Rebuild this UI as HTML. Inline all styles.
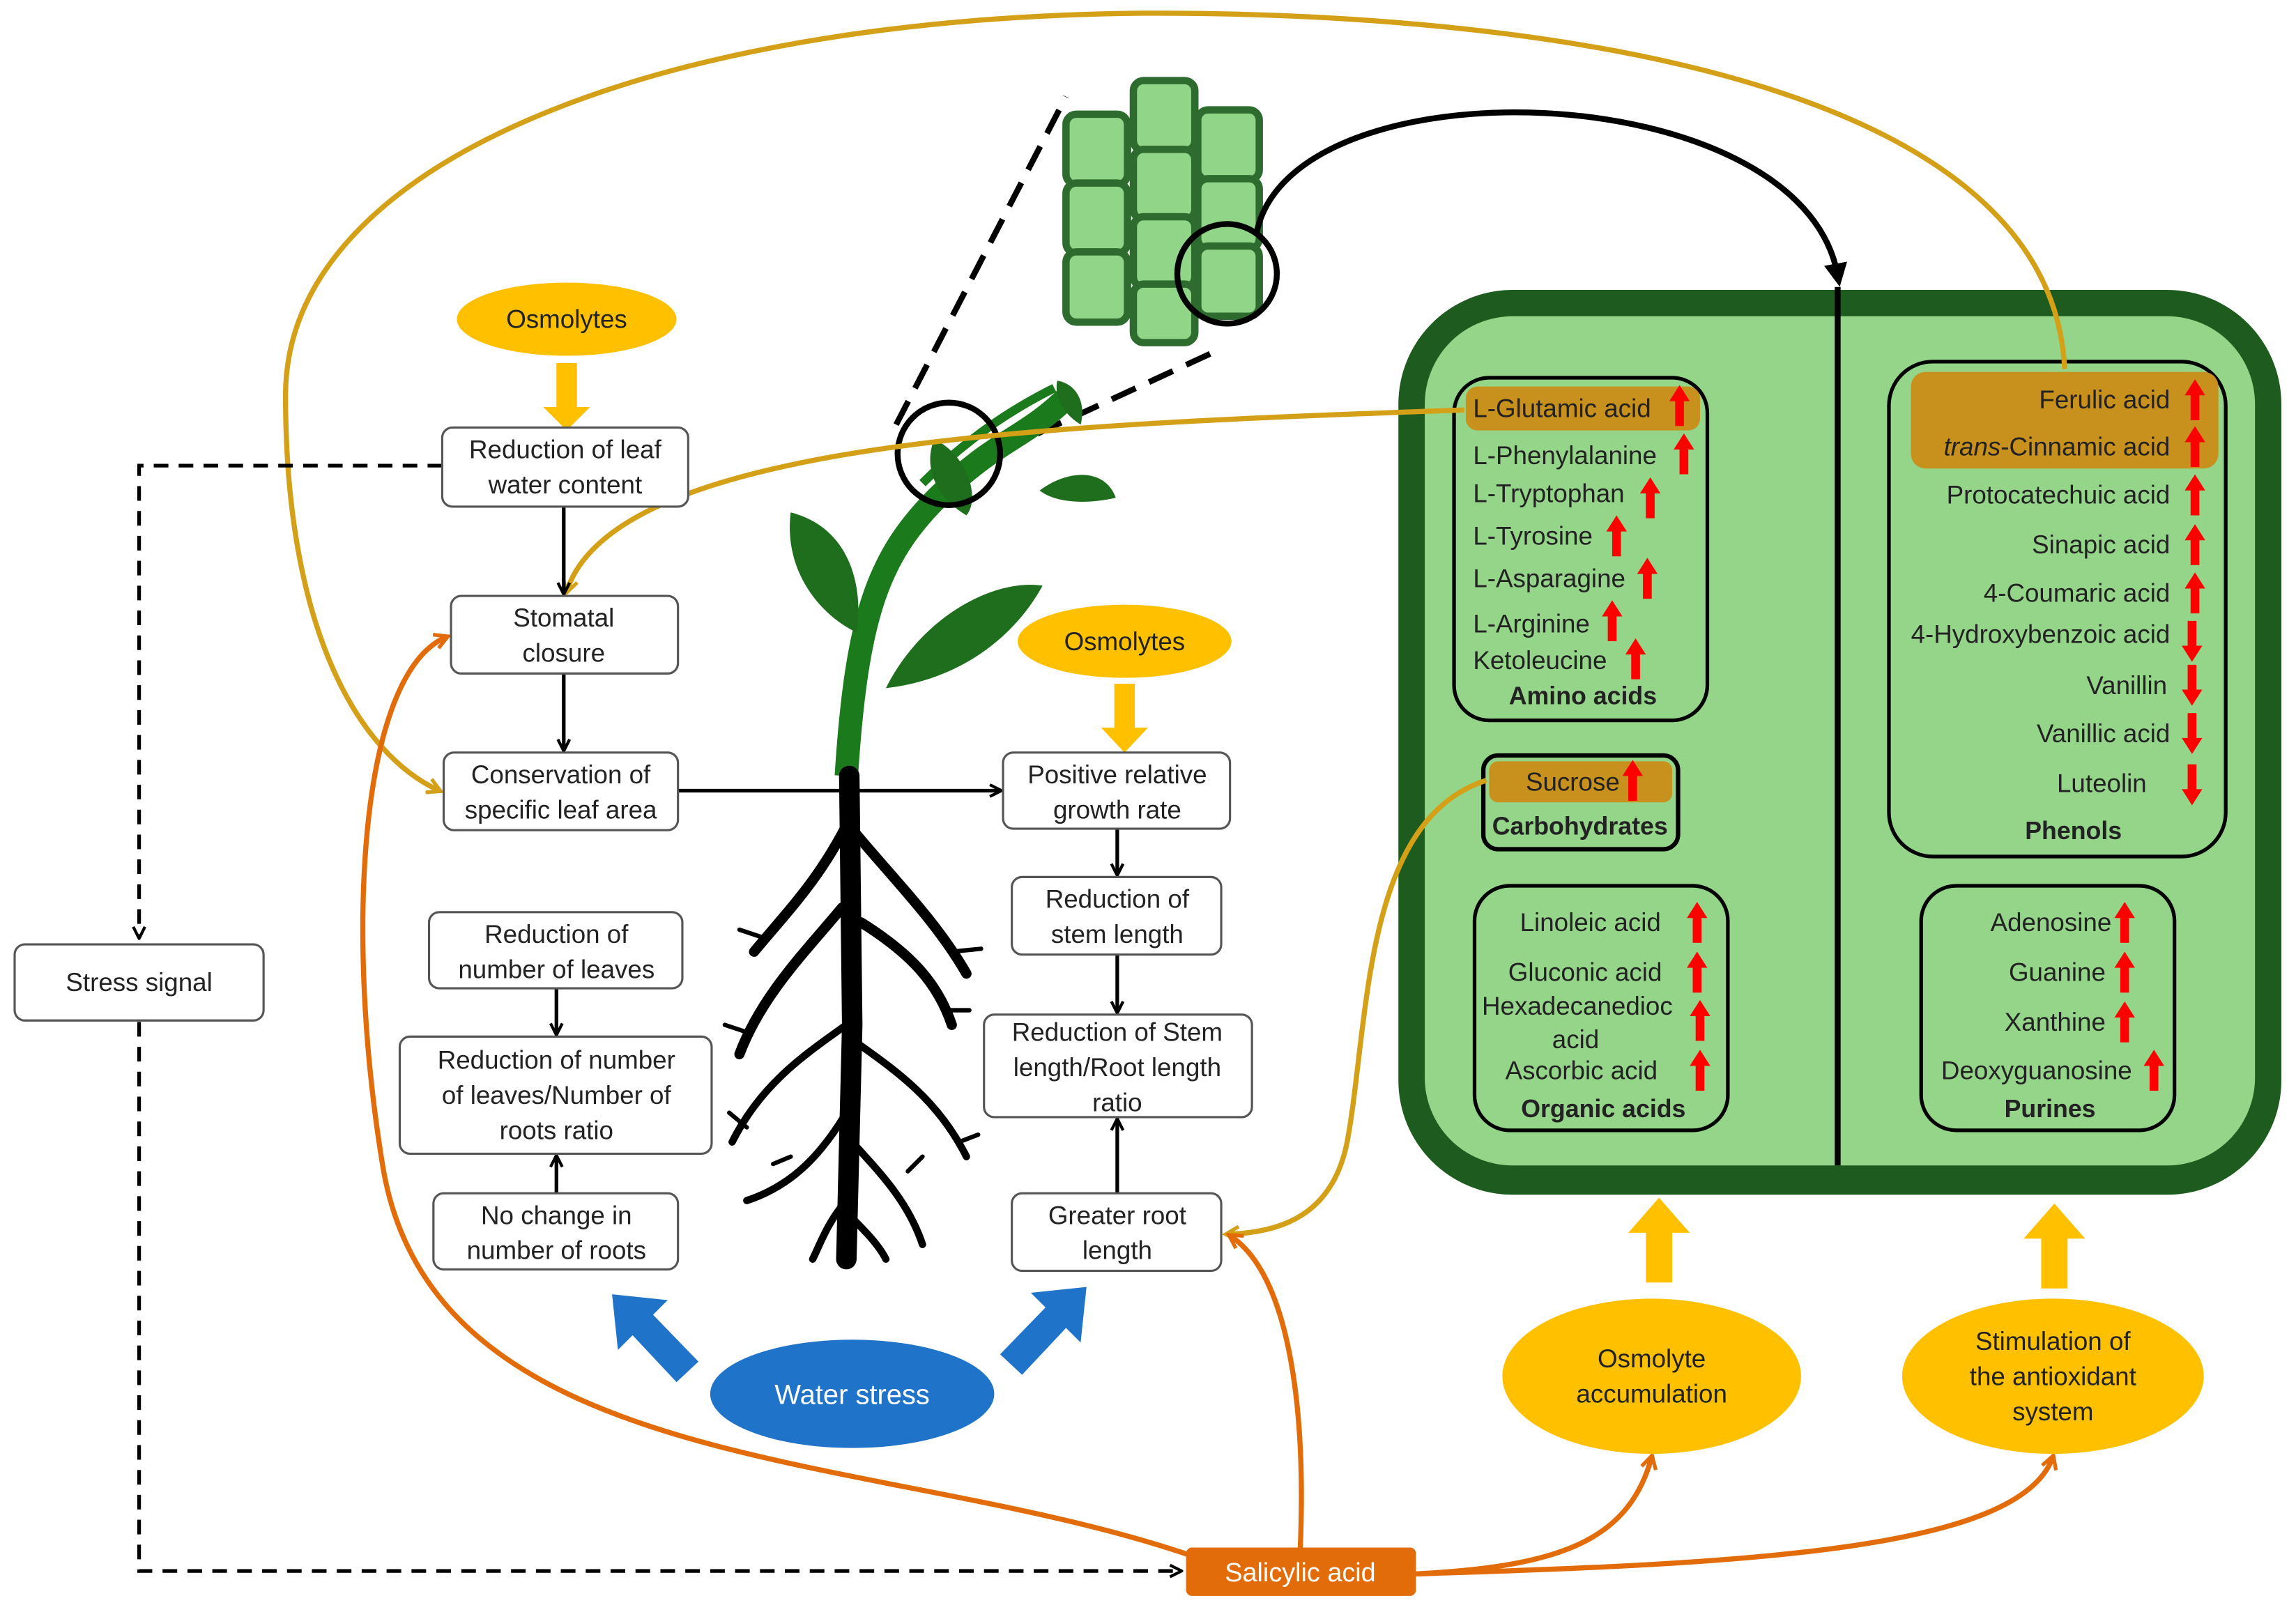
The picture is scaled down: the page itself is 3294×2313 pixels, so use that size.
<!DOCTYPE html>
<html><head><meta charset="utf-8"><style>
html,body{margin:0;padding:0;background:#fff}
svg{display:block}
text{font-family:"Liberation Sans",Arial,sans-serif;font-size:17.5px;fill:#222}
.b{font-weight:bold;font-size:17px}
</style></head><body>
<svg width="3294" height="2313" viewBox="0 0 1568 1101" xmlns="http://www.w3.org/2000/svg">
<defs>
<marker id="ak" markerWidth="10" markerHeight="10" refX="8" refY="5" orient="auto" markerUnits="userSpaceOnUse"><path d="M1,1 L9,5 L1,9" fill="none" stroke="#000" stroke-width="2"/></marker>
<marker id="ag" markerWidth="12" markerHeight="12" refX="9" refY="6" orient="auto" markerUnits="userSpaceOnUse"><path d="M1,1 L10,6 L1,11" fill="none" stroke="#D4A017" stroke-width="2.5"/></marker>
<marker id="ao" markerWidth="12" markerHeight="12" refX="9" refY="6" orient="auto" markerUnits="userSpaceOnUse"><path d="M1,1 L10,6 L1,11" fill="none" stroke="#E36C0A" stroke-width="2.5"/></marker>
<marker id="abk" markerWidth="16" markerHeight="16" refX="8" refY="8" orient="auto" markerUnits="userSpaceOnUse"><path d="M0,0 L16,8 L0,16 Z" fill="#000"/></marker>
<symbol id="up" viewBox="0 0 14 28"><path d="M7,0 L14,11 L10,11 L10,28 L4,28 L4,11 L0,11 Z" fill="#F00"/></symbol>
<symbol id="dn" viewBox="0 0 14 28"><path d="M7,28 L14,17 L10,17 L10,0 L4,0 L4,17 L0,17 Z" fill="#F00"/></symbol>
</defs>

<rect x="955" y="198" width="603" height="618" rx="78" fill="#1E5B1E"/>
<rect x="973" y="216" width="567" height="580" rx="60" fill="#95D58A"/>
<line x1="1255" y1="196" x2="1255" y2="796" stroke="#000" stroke-width="4"/>

<g fill="none" stroke="#000" stroke-width="2.5">
<rect x="993" y="258" width="173" height="234" rx="24"/>
<rect x="1013" y="516" width="133" height="64" rx="10" stroke-width="3"/>
<rect x="1007" y="605" width="173" height="167" rx="24"/>
<rect x="1290" y="247" width="230" height="338" rx="30"/>
<rect x="1312" y="605" width="173" height="167" rx="24"/>
</g>
<rect x="1001" y="264" width="160" height="30" rx="8" fill="#C8901C"/>
<rect x="1305" y="254" width="210" height="66" rx="10" fill="#C8901C"/>
<rect x="1017" y="520" width="125" height="28" rx="6" fill="#C8901C"/>

<text x="1006" y="285">L-Glutamic acid</text><use href="#up" x="1140" y="263" width="14" height="28"/>
<text x="1006" y="317">L-Phenylalanine</text><use href="#up" x="1143" y="296" width="14" height="28"/>
<text x="1006" y="343">L-Tryptophan</text><use href="#up" x="1120" y="326" width="14" height="28"/>
<text x="1006" y="372">L-Tyrosine</text><use href="#up" x="1097" y="352" width="14" height="28"/>
<text x="1006" y="401">L-Asparagine</text><use href="#up" x="1118" y="381" width="14" height="28"/>
<text x="1006" y="432">L-Arginine</text><use href="#up" x="1094" y="410" width="14" height="28"/>
<text x="1006" y="457">Ketoleucine</text><use href="#up" x="1110" y="436" width="14" height="28"/>
<text x="1081" y="481" text-anchor="middle" class="b">Amino acids</text>
<text x="1042" y="540">Sucrose</text><use href="#up" x="1108" y="519" width="14" height="28"/>
<text x="1079" y="570" text-anchor="middle" class="b">Carbohydrates</text>
<text x="1038" y="636">Linoleic acid</text><use href="#up" x="1152" y="616" width="14" height="28"/>
<text x="1030" y="670">Gluconic acid</text><use href="#up" x="1152" y="650" width="14" height="28"/>
<text x="1012" y="693">Hexadecanedioc</text><use href="#up" x="1154" y="683" width="14" height="28"/>
<text x="1060" y="716">acid</text>
<text x="1028" y="737">Ascorbic acid</text><use href="#up" x="1154" y="717" width="14" height="28"/>
<text x="1095" y="763" text-anchor="middle" class="b">Organic acids</text>

<text x="1482" y="279" text-anchor="end">Ferulic acid</text><use href="#up" x="1492" y="259" width="14" height="28"/>
<text x="1482" y="311" text-anchor="end"><tspan font-style="italic">trans</tspan>-Cinnamic acid</text><use href="#up" x="1492" y="291" width="14" height="28"/>
<text x="1482" y="344" text-anchor="end">Protocatechuic acid</text><use href="#up" x="1492" y="324" width="14" height="28"/>
<text x="1482" y="378" text-anchor="end">Sinapic acid</text><use href="#up" x="1492" y="358" width="14" height="28"/>
<text x="1482" y="411" text-anchor="end">4-Coumaric acid</text><use href="#up" x="1492" y="391" width="14" height="28"/>
<text x="1482" y="439" text-anchor="end">4-Hydroxybenzoic acid</text><use href="#dn" x="1490" y="424" width="14" height="28"/>
<text x="1480" y="474" text-anchor="end">Vanillin</text><use href="#dn" x="1490" y="454" width="14" height="28"/>
<text x="1482" y="507" text-anchor="end">Vanillic acid</text><use href="#dn" x="1490" y="487" width="14" height="28"/>
<text x="1466" y="541" text-anchor="end">Luteolin</text><use href="#dn" x="1490" y="522" width="14" height="28"/>
<text x="1416" y="573" text-anchor="middle" class="b">Phenols</text>
<text x="1442" y="636" text-anchor="end">Adenosine</text><use href="#up" x="1444" y="616" width="14" height="28"/>
<text x="1438" y="670" text-anchor="end">Guanine</text><use href="#up" x="1444" y="650" width="14" height="28"/>
<text x="1438" y="704" text-anchor="end">Xanthine</text><use href="#up" x="1444" y="684" width="14" height="28"/>
<text x="1456" y="737" text-anchor="end">Deoxyguanosine</text><use href="#up" x="1464" y="717" width="14" height="28"/>
<text x="1400" y="763" text-anchor="middle" class="b">Purines</text>

<g fill="#90D588" stroke="#2E6B2E" stroke-width="5">
<rect x="728" y="78" width="42" height="48" rx="7"/>
<rect x="774" y="55" width="42" height="48" rx="7"/>
<rect x="818" y="75" width="42" height="48" rx="7"/>
<rect x="728" y="125" width="42" height="48" rx="7"/>
<rect x="774" y="102" width="42" height="48" rx="7"/>
<rect x="818" y="122" width="42" height="48" rx="7"/>
<rect x="728" y="172" width="42" height="48" rx="7"/>
<rect x="774" y="148" width="42" height="48" rx="7"/>
<rect x="818" y="168" width="42" height="48" rx="7"/>
<rect x="774" y="194" width="42" height="40" rx="7"/>
</g>
<circle cx="838" cy="187" r="34" fill="none" stroke="#000" stroke-width="4"/>
<path d="M858,160 C880,40 1230,50 1255,188" fill="none" stroke="#000" stroke-width="4" marker-end="url(#abk)"/>
<line x1="612" y1="290" x2="728" y2="66" stroke="#000" stroke-width="4" stroke-dasharray="18,10"/>
<line x1="683" y1="308" x2="830" y2="240" stroke="#000" stroke-width="4" stroke-dasharray="18,10"/>

<path d="M578,530 C585,420 600,380 640,340 C680,300 700,300 730,270" fill="none" stroke="#1B7A1B" stroke-width="16"/>
<path d="M630,330 C660,300 690,280 720,265" fill="none" stroke="#1B7A1B" stroke-width="6"/>
<path d="M540,350 C580,360 590,400 585,432 C560,420 535,390 540,350Z" fill="#1E6E1E"/>
<path d="M605,470 C630,420 680,395 712,400 C690,440 650,465 605,470Z" fill="#1E6E1E"/>
<path d="M638,300 C660,310 670,340 660,352 C640,340 630,320 638,300Z" fill="#1E6E1E"/>
<path d="M710,335 C730,320 755,320 762,340 C740,345 720,343 710,335Z" fill="#1E6E1E"/>
<path d="M722,260 C735,262 742,275 738,290 C725,282 720,270 722,260Z" fill="#1E6E1E"/>
<circle cx="648" cy="310" r="35" fill="none" stroke="#000" stroke-width="4"/>
<g stroke="#000" fill="none" stroke-linecap="round">
<path d="M580,530 L582,700 L578,860" stroke-width="14"/>
<path d="M580,560 C560,600 540,620 515,650 M585,570 C610,600 640,630 660,665 M575,620 C550,650 520,680 505,720 M588,630 C620,650 640,670 650,700" stroke-width="7"/>
<path d="M578,700 C550,720 520,740 500,780 M582,710 C610,730 640,750 660,790 M578,760 C560,790 540,810 510,820 M582,780 C600,800 620,820 630,850 M578,820 C565,835 560,850 555,860 M580,830 C590,840 600,850 605,860" stroke-width="5"/>
<path d="M520,640 L505,635 M650,650 L670,648 M510,705 L495,700 M645,690 L662,690 M510,770 L498,760 M655,780 L668,775 M540,790 L528,795 M620,800 L630,790" stroke-width="3"/>
</g>

<g fill="none" stroke="#D4A017" stroke-width="3.5">
<path d="M1410,252 C1400,40 1000,8 780,9 C450,12 195,110 195,270 C195,430 245,515 300,540" marker-end="url(#ag)"/>
<path d="M1000,280 C720,290 420,300 387,404" marker-end="url(#ag)"/>
<path d="M1015,533 C930,560 935,700 920,780 C910,830 875,842 838,843" marker-end="url(#ag)"/>
</g>

<g fill="none" stroke="#E36C0A" stroke-width="3.5">
<path d="M812,1062 C600,990 300,1010 262,800 C235,640 245,460 305,435" marker-end="url(#ao)"/>
<path d="M888,1057 C892,960 880,870 840,844" marker-end="url(#ao)"/>
<path d="M967,1075 C1060,1070 1112,1055 1128,995" marker-end="url(#ao)"/>
<path d="M967,1075 C1200,1068 1380,1058 1402,995" marker-end="url(#ao)"/>
</g>

<g fill="none" stroke="#000" stroke-width="2.5" stroke-dasharray="10,7">
<path d="M302,318 L95,318 L95,640" marker-end="url(#ak)"/>
<path d="M95,698 L95,1073 L806,1073" marker-end="url(#ak)"/>
</g>

<g stroke="#000" stroke-width="2.5" marker-end="url(#ak)">
<line x1="385" y1="346" x2="385" y2="405"/>
<line x1="385" y1="460" x2="385" y2="512"/>
<line x1="463" y1="540" x2="683" y2="540"/>
<line x1="763" y1="566" x2="763" y2="597"/>
<line x1="763" y1="652" x2="763" y2="691"/>
<line x1="763" y1="815" x2="763" y2="765"/>
<line x1="380" y1="675" x2="380" y2="706"/>
<line x1="380" y1="815" x2="380" y2="790"/>
</g>

<ellipse cx="387" cy="218" rx="75" ry="25" fill="#FFC000"/>
<text x="387" y="224" text-anchor="middle">Osmolytes</text>
<path d="M380,248 L394,248 L394,278 L403,278 L387,294 L371,278 L380,278Z" fill="#FFC000"/>
<ellipse cx="768" cy="438" rx="73" ry="25" fill="#FFC000"/>
<text x="768" y="444" text-anchor="middle">Osmolytes</text>
<path d="M761,467 L775,467 L775,497 L784,497 L768,514 L752,497 L761,497Z" fill="#FFC000"/>
<path d="M1124,876 L1142,876 L1142,842 L1154,842 L1133,818 L1112,842 L1124,842Z" fill="#FFC000"/>
<path d="M1394,880 L1412,880 L1412,846 L1424,846 L1403,822 L1382,846 L1394,846Z" fill="#FFC000"/>
<ellipse cx="1128" cy="940" rx="102" ry="53" fill="#FFC000"/>
<text x="1128" y="934" text-anchor="middle">Osmolyte</text><text x="1128" y="958" text-anchor="middle">accumulation</text>
<ellipse cx="1402" cy="940" rx="103" ry="53" fill="#FFC000"/>
<text x="1402" y="922" text-anchor="middle">Stimulation of</text><text x="1402" y="946" text-anchor="middle">the antioxidant</text><text x="1402" y="970" text-anchor="middle">system</text>

<ellipse cx="582" cy="952" rx="97" ry="37" fill="#1F73C8"/>
<text x="582" y="959" text-anchor="middle" style="fill:#fff;font-size:19px">Water stress</text>
<path d="M477,930 L462,944 L432,912 L422,922 L418,884 L456,888 L446,898Z" fill="#1F73C8"/>
<path d="M683,925 L698,939 L728,907 L738,917 L742,879 L704,883 L714,893Z" fill="#1F73C8"/>

<rect x="810" y="1057" width="157" height="33" rx="4" fill="#E36C0A"/>
<text x="888" y="1080" text-anchor="middle" style="fill:#fff;font-size:18px">Salicylic acid</text>

<g fill="#fff" stroke="#555" stroke-width="1.5">
<rect x="302" y="292" width="168" height="54" rx="7"/>
<rect x="308" y="407" width="155" height="53" rx="7"/>
<rect x="303" y="514" width="160" height="53" rx="7"/>
<rect x="293" y="623" width="173" height="52" rx="7"/>
<rect x="273" y="708" width="213" height="80" rx="7"/>
<rect x="296" y="815" width="167" height="52" rx="7"/>
<rect x="10" y="645" width="170" height="52" rx="7"/>
<rect x="685" y="514" width="155" height="52" rx="7"/>
<rect x="691" y="599" width="143" height="53" rx="7"/>
<rect x="672" y="693" width="183" height="70" rx="7"/>
<rect x="691" y="815" width="143" height="53" rx="7"/>
</g>
<g text-anchor="middle">
<text x="386" y="313">Reduction of leaf</text><text x="386" y="337">water content</text>
<text x="385" y="428">Stomatal</text><text x="385" y="452">closure</text>
<text x="383" y="535">Conservation of</text><text x="383" y="559">specific leaf area</text>
<text x="380" y="644">Reduction of</text><text x="380" y="668">number of leaves</text>
<text x="380" y="730">Reduction of number</text><text x="380" y="754">of leaves/Number of</text><text x="380" y="778">roots ratio</text>
<text x="380" y="836">No change in</text><text x="380" y="860">number of roots</text>
<text x="95" y="677">Stress signal</text>
<text x="763" y="535">Positive relative</text><text x="763" y="559">growth rate</text>
<text x="763" y="620">Reduction of</text><text x="763" y="644">stem length</text>
<text x="763" y="711">Reduction of Stem</text><text x="763" y="735">length/Root length</text><text x="763" y="759">ratio</text>
<text x="763" y="836">Greater root</text><text x="763" y="860">length</text>
</g>
</svg>
</body></html>
